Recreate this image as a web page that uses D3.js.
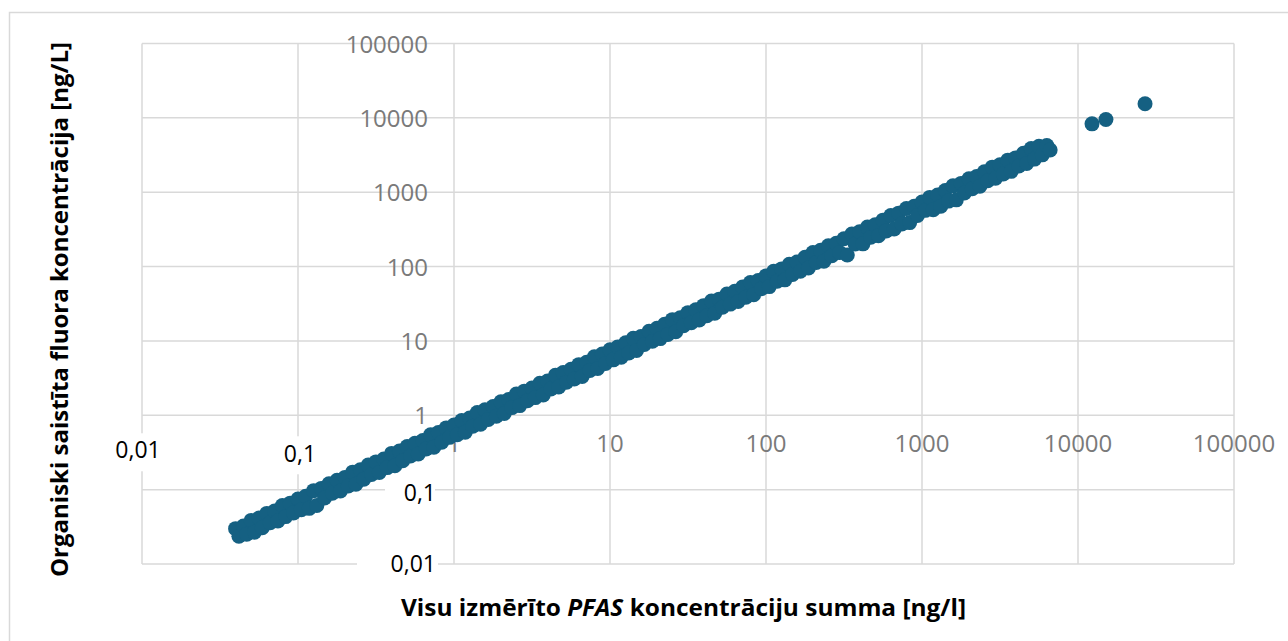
<!DOCTYPE html>
<html>
<head>
<meta charset="utf-8">
<script src="https://cdn.jsdelivr.net/npm/d3@7"></script>
<style>
  body { margin: 0; background: #fff; }
  svg { display: block; }
</style>
</head>
<body>
<div id="chart"></div>
<script>
var width = 1288;
var height = 641;

// measured PFAS sum [ng/l]
var pfasSum = [
  // 0.01 - 0.1
  0.0398, 0.0418, 0.0447, 0.0469, 0.0501, 0.0526, 0.0562, 0.0590,
  0.0631, 0.0663, 0.0708, 0.0743, 0.0794, 0.0834, 0.0891, 0.0936,
  // 0.1 - 1
  0.100, 0.105, 0.112, 0.118, 0.126, 0.132, 0.141, 0.148, 0.158, 0.166,
  0.178, 0.187, 0.200, 0.210, 0.224, 0.235, 0.251, 0.264, 0.282, 0.296,
  0.316, 0.332, 0.355, 0.373, 0.398, 0.418, 0.447, 0.469, 0.501, 0.526,
  0.562, 0.590, 0.631, 0.663, 0.708, 0.743, 0.794, 0.834, 0.891, 0.936,
  // 1 - 10
  1.00, 1.05, 1.12, 1.18, 1.26, 1.32, 1.41, 1.48, 1.58, 1.66,
  1.78, 1.87, 2.00, 2.10, 2.24, 2.35, 2.51, 2.64, 2.82, 2.96,
  3.16, 3.32, 3.55, 3.73, 3.98, 4.18, 4.47, 4.69, 5.01, 5.26,
  5.62, 5.90, 6.31, 6.63, 7.08, 7.43, 7.94, 8.34, 8.91, 9.36,
  // 10 - 100
  10.0, 10.5, 11.2, 11.8, 12.6, 13.2, 14.1, 14.8, 15.8, 16.6,
  17.8, 18.7, 20.0, 21.0, 22.4, 23.5, 25.1, 26.4, 28.2, 29.6,
  31.6, 33.2, 35.5, 37.3, 39.8, 41.8, 44.7, 46.9, 50.1, 52.6,
  56.2, 59.0, 63.1, 66.3, 70.8, 74.3, 79.4, 83.4, 89.1, 93.6,
  // 100 - 1000
  100, 105, 112, 118, 126, 132, 141, 148, 158, 166,
  178, 187, 200, 210, 224, 235, 251, 264, 282, 296,
  316, 332, 355, 373, 398, 418, 447, 469, 501, 526,
  562, 590, 631, 663, 708, 743, 794, 834, 891, 936,
  // 1000 - 10000
  1000, 1050, 1120, 1180, 1260, 1320, 1410, 1480, 1580, 1660,
  1780, 1870, 2000, 2100, 2240, 2350, 2510, 2640, 2820, 2960,
  3160, 3320, 3550, 3730, 3980, 4180, 4470, 4690, 5010, 5260,
  5620, 5900, 6310, 6630,
  // highest samples
  12300, 15100, 26900
];

// organically bound fluorine [ng/L]
var orgFluor = [
  0.0299, 0.0236, 0.0325, 0.0252, 0.0386, 0.0268, 0.0415, 0.0307,
  0.0479, 0.0358, 0.0515, 0.0380, 0.0612, 0.0434, 0.0658, 0.0487,

  0.0749, 0.0538, 0.0815, 0.0560, 0.0970, 0.0614, 0.104, 0.0771, 0.120, 0.0896,
  0.134, 0.0958, 0.146, 0.112, 0.172, 0.118, 0.185, 0.138, 0.214, 0.160,
  0.236, 0.170, 0.258, 0.198, 0.307, 0.210, 0.330, 0.245, 0.381, 0.284,
  0.421, 0.302, 0.459, 0.352, 0.546, 0.373, 0.586, 0.434, 0.677, 0.505,

  0.738, 0.547, 0.851, 0.592, 0.917, 0.712, 1.086, 0.757, 1.183, 0.880,
  1.314, 0.974, 1.519, 1.055, 1.630, 1.268, 1.933, 1.350, 2.112, 1.569,
  2.333, 1.729, 2.697, 1.873, 2.895, 2.254, 3.443, 2.399, 3.752, 2.788,
  4.149, 3.073, 4.794, 3.329, 5.151, 4.007, 6.117, 4.266, 6.674, 4.962,

  7.60, 5.57, 8.27, 6.04, 9.44, 6.87, 10.86, 7.43, 11.49, 8.96,
  13.52, 9.91, 14.77, 10.74, 16.78, 12.24, 19.33, 13.26, 20.52, 15.97,
  24.01, 17.60, 26.22, 19.08, 29.81, 21.77, 34.43, 23.56, 36.45, 28.37,
  42.69, 31.28, 46.59, 33.92, 53.03, 38.70, 61.17, 41.89, 64.83, 50.49,

  74.9, 53.8, 86.2, 63.6, 93.0, 66.3, 107.1, 78.5, 114.9, 86.5,
  133.3, 95.7, 154.1, 113.3, 165.4, 118.0, 190.7, 140.0, 205.2, 154.2,
  236.7, 143.0, 273.5, 201.2, 293.8, 202.2, 339.6, 248.6, 364.5, 259.3,
  420.9, 301.8, 486.1, 320.7, 522.7, 373.1, 603.2, 390.0, 648.3, 487.5,

  738, 570, 851, 580, 917, 650, 1056, 760, 1218, 790,
  1314, 974, 1519, 1113, 1630, 1202, 1880, 1424, 2172, 1542,
  2333, 1760, 2697, 1908, 2895, 2254, 3348, 2442, 3859, 2788,
  4149, 3182, 4250, 3700,

  8300, 9500, 15500
];

var decades = [0.01, 0.1, 1, 10, 100, 1000, 10000, 100000];
// gray axis labels (Excel default) and the black overlaid ones
var grayTicks = [1, 10, 100, 1000, 10000, 100000];
var blackTicks = [0.01, 0.1];

var points = pfasSum.map(function(x, i) { return { x: x, y: orgFluor[i] }; });

var x = d3.scaleLog().domain([0.01, 100000]).range([142, 1234]);
var y = d3.scaleLog().domain([0.01, 100000]).range([564, 43.5]);

function fmt(v) {
  return String(v).replace(".", ",");
}

var svg = d3.select("#chart")
  .append("svg")
  .attr("width", width)
  .attr("height", height);

// outer chart border
svg.append("rect")
  .attr("x", 9.5)
  .attr("y", 12.5)
  .attr("width", 1300)
  .attr("height", 660)
  .attr("fill", "#fff")
  .attr("stroke", "#d9d9d9")
  .attr("stroke-width", 1.5);

var grid = svg.append("g").attr("class", "grid");

grid.selectAll("line.v")
  .data(decades)
  .enter()
  .append("line")
  .attr("class", "v")
  .attr("x1", function(d) { return x(d); })
  .attr("x2", function(d) { return x(d); })
  .attr("y1", y(100000))
  .attr("y2", y(0.01))
  .attr("stroke", "#d9d9d9")
  .attr("stroke-width", 1.5);

grid.selectAll("line.h")
  .data(decades)
  .enter()
  .append("line")
  .attr("class", "h")
  .attr("x1", x(0.01))
  .attr("x2", x(100000))
  .attr("y1", function(d) { return y(d); })
  .attr("y2", function(d) { return y(d); })
  .attr("stroke", "#d9d9d9")
  .attr("stroke-width", 1.5);

// gray tick labels at the axis crossing (1;1)
var labelFont = "'Open Sans', 'Liberation Sans', sans-serif";

svg.append("g")
  .selectAll("text")
  .data(grayTicks)
  .enter()
  .append("text")
  .attr("x", function(d) { return x(d); })
  .attr("y", y(1) + 37)
  .attr("text-anchor", "middle")
  .attr("font-family", labelFont)
  .attr("font-size", 24)
  .attr("fill", "#7a7a7a")
  .text(function(d) { return fmt(d); });

svg.append("g")
  .selectAll("text")
  .data(grayTicks)
  .enter()
  .append("text")
  .attr("x", 428)
  .attr("y", function(d) { return y(d) + 9; })
  .attr("text-anchor", "end")
  .attr("font-family", labelFont)
  .attr("font-size", 24)
  .attr("fill", "#7a7a7a")
  .text(function(d) { return fmt(d); });

// black labels pasted over with white boxes
var xBlack = svg.append("g").selectAll("g")
  .data(blackTicks)
  .enter()
  .append("g");

xBlack.append("rect")
  .attr("x", function(d) { return x(d) - 27; })
  .attr("y", function(d, i) { return y(1) + 18 + i * 3; })
  .attr("width", 54)
  .attr("height", 38)
  .attr("fill", "#fff");

xBlack.append("text")
  .attr("x", function(d, i) { return i === 0 ? x(d) - 4 : x(d) + 2; })
  .attr("y", function(d, i) { return i === 0 ? y(1) + 43 : y(1) + 47; })
  .attr("text-anchor", "middle")
  .attr("font-family", labelFont)
  .attr("font-size", 23)
  .attr("fill", "#000")
  .text(function(d) { return fmt(d); });

var yBlack = svg.append("g").selectAll("g")
  .data(blackTicks)
  .enter()
  .append("g");

yBlack.append("rect")
  .attr("x", function(d, i) { return i === 0 ? 357 : 385; })
  .attr("y", function(d) { return y(d) - 16; })
  .attr("width", function(d, i) { return i === 0 ? 81 : 50; })
  .attr("height", 35)
  .attr("fill", "#fff");

yBlack.append("text")
  .attr("x", 436)
  .attr("y", function(d, i) { return i === 0 ? y(d) + 8 : y(d) + 11; })
  .attr("text-anchor", "end")
  .attr("font-family", labelFont)
  .attr("font-size", 23)
  .attr("fill", "#000")
  .text(function(d) { return fmt(d); });

// scatter points
svg.append("g")
  .selectAll("circle")
  .data(points)
  .enter()
  .append("circle")
  .attr("cx", function(d) { return x(d.x); })
  .attr("cy", function(d) { return y(d.y); })
  .attr("r", 7.5)
  .attr("fill", "#156082");

// axis titles
var titleFont = "'Open Sans', 'Liberation Sans', sans-serif";

var xTitle = svg.append("text")
  .attr("x", 401)
  .attr("y", 616)
  .attr("font-family", titleFont)
  .attr("font-weight", "bold")
  .attr("font-size", 23)
  .attr("fill", "#000")
  .attr("textLength", 565)
  .attr("lengthAdjust", "spacingAndGlyphs");
xTitle.append("tspan").text("Visu izmērīto ");
xTitle.append("tspan").attr("font-style", "italic").text("PFAS");
xTitle.append("tspan").text(" koncentrāciju summa [ng/l]");

svg.append("text")
  .attr("transform", "translate(68,577) rotate(-90)")
  .attr("font-family", titleFont)
  .attr("font-weight", "bold")
  .attr("font-size", 23)
  .attr("fill", "#000")
  .attr("textLength", 535)
  .attr("lengthAdjust", "spacingAndGlyphs")
  .text("Organiski saistīta fluora koncentrācija [ng/L]");
</script>
</body>
</html>
